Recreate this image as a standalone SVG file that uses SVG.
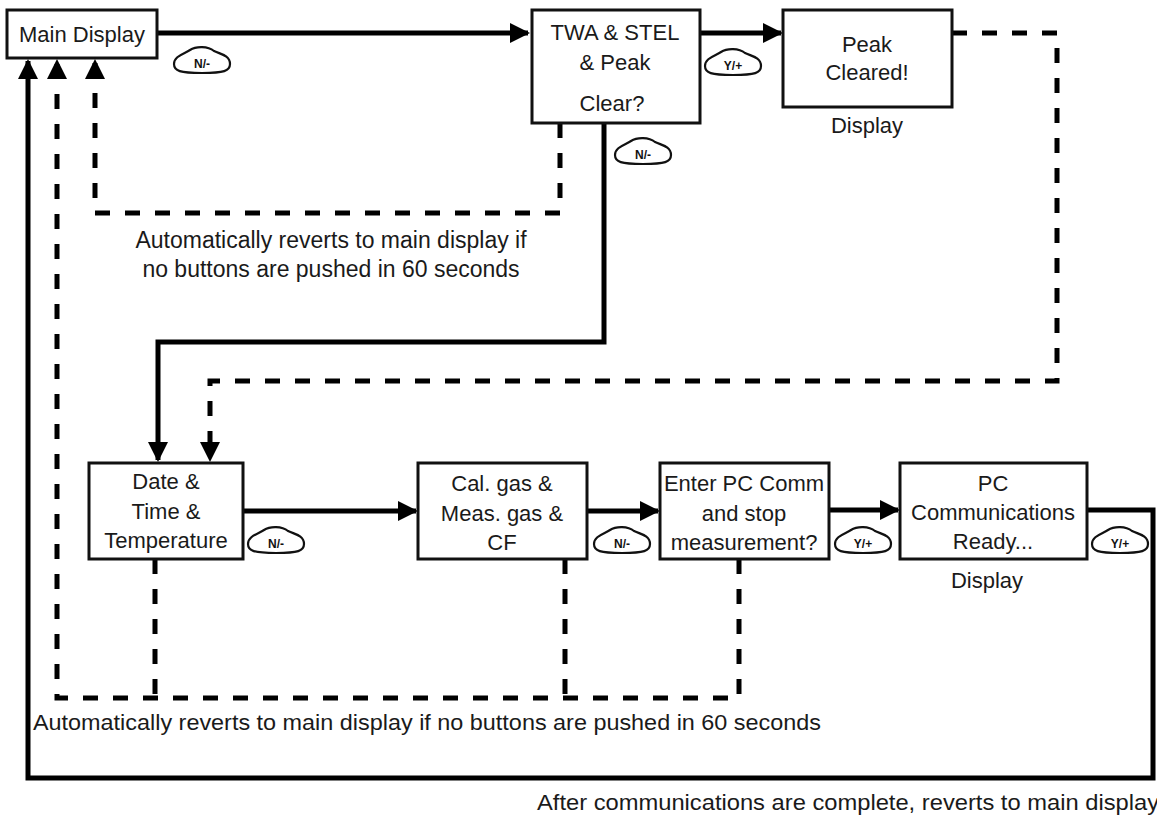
<svg xmlns="http://www.w3.org/2000/svg" width="1157" height="816" viewBox="0 0 1157 816">
<defs>
<style>
.box{fill:#fff;stroke:#111;stroke-width:3}
.t{font-family:"Liberation Sans",Arial,sans-serif;font-size:22px;fill:#1a1a1a;text-anchor:middle}
.n{font-family:"Liberation Sans",Arial,sans-serif;font-size:22px;fill:#1a1a1a}
.s{fill:none;stroke:#000;stroke-width:5}
.d{fill:none;stroke:#000;stroke-width:5;stroke-dasharray:15 15}
.bd{fill:#fff;stroke:#111;stroke-width:2.2}
.bt{font-family:"Liberation Sans",Arial,sans-serif;font-size:12px;font-weight:bold;fill:#111;text-anchor:middle}
</style>
<marker id="ah" viewBox="0 0 10 10" refX="9" refY="5" markerWidth="4" markerHeight="4" markerUnits="strokeWidth" orient="auto">
<path d="M0,0 L10,5 L0,10 Z" fill="#000"/>
</marker>
<path id="badge" d="M-28,6 C-28,-2 -18,-4 -12,-8 C-6,-12 6,-12 12,-7 C18,-4 28,-3 28,6 C28,13 22,15 0,15 C-22,15 -28,13 -28,6 Z"/>
</defs>

<g id="connectors">
<path class="s" d="M157,33 L528,33" marker-end="url(#ah)"/>
<path class="s" d="M700,33 L781,33" marker-end="url(#ah)"/>
<path class="d" d="M952,33 L1057,33 L1057,381 L210,381 L210,460" marker-end="url(#ah)"/>
<path class="s" d="M604,123 L604,342 L158,342 L158,460" marker-end="url(#ah)"/>
<path class="d" d="M560,123 L560,213 L95,213 L95,61" marker-end="url(#ah)"/>
<path class="s" d="M243,511 L416,511" marker-end="url(#ah)"/>
<path class="s" d="M587,511 L658,511" marker-end="url(#ah)"/>
<path class="s" d="M829,510 L898,510" marker-end="url(#ah)"/>
<path class="s" d="M1087,510 L1153,510 L1153,778 L28,778 L28,61" marker-end="url(#ah)"/>
<path class="d" d="M739,559 L739,698 L57,698 L57,61" marker-end="url(#ah)"/>
<path class="d" d="M155,559 L155,698"/>
<path class="d" d="M565,559 L565,698"/>
</g>

<g id="badges">
<g transform="translate(202,58)"><use href="#badge" class="bd"/><text class="bt" x="0" y="10">N/-</text></g>
<g transform="translate(733,60)"><use href="#badge" class="bd"/><text class="bt" x="0" y="10">Y/+</text></g>
<g transform="translate(643,149)"><use href="#badge" class="bd"/><text class="bt" x="0" y="10">N/-</text></g>
<g transform="translate(276,538)"><use href="#badge" class="bd"/><text class="bt" x="0" y="10">N/-</text></g>
<g transform="translate(622,538)"><use href="#badge" class="bd"/><text class="bt" x="0" y="10">N/-</text></g>
<g transform="translate(863,538)"><use href="#badge" class="bd"/><text class="bt" x="0" y="10">Y/+</text></g>
<g transform="translate(1120,538)"><use href="#badge" class="bd"/><text class="bt" x="0" y="10">Y/+</text></g>
</g>

<g id="main-display">
<rect class="box" x="7" y="10" width="150" height="48"/>
<text class="t" x="82" y="42">Main Display</text>
</g>

<g id="twa">
<rect class="box" x="532" y="10" width="168" height="113"/>
<text class="t" x="615" y="40">TWA &amp; STEL</text>
<text class="t" x="615" y="70">&amp; Peak</text>
<text class="t" x="612" y="111">Clear?</text>
</g>

<g id="peak">
<rect class="box" x="783" y="10" width="169" height="97"/>
<text class="t" x="867" y="52">Peak</text>
<text class="t" x="867" y="80">Cleared!</text>
<text class="t" x="867" y="133">Display</text>
</g>

<g id="date">
<rect class="box" x="89" y="463" width="154" height="96"/>
<text class="t" x="166" y="489">Date &amp;</text>
<text class="t" x="166" y="519">Time &amp;</text>
<text class="t" x="166" y="548">Temperature</text>
</g>

<g id="cal">
<rect class="box" x="418" y="463" width="169" height="96"/>
<text class="t" x="502" y="491">Cal. gas &amp;</text>
<text class="t" x="502" y="521">Meas. gas &amp;</text>
<text class="t" x="502" y="550">CF</text>
</g>

<g id="enter">
<rect class="box" x="660" y="463" width="169" height="96"/>
<text class="t" x="744" y="491">Enter PC Comm</text>
<text class="t" x="744" y="521">and stop</text>
<text class="t" x="744" y="550">measurement?</text>
</g>

<g id="pc">
<rect class="box" x="900" y="463" width="187" height="96"/>
<text class="t" x="993" y="491">PC</text>
<text class="t" x="993" y="520">Communications</text>
<text class="t" x="993" y="549">Ready...</text>
<text class="t" x="987" y="588">Display</text>
</g>

<g id="notes">
<text class="t" x="331" y="248" style="font-size:23px">Automatically reverts to main display if</text>
<text class="t" x="331" y="277" style="font-size:23px">no buttons are pushed in 60 seconds</text>
<text class="n" x="33" y="730" textLength="788" lengthAdjust="spacingAndGlyphs">Automatically reverts to main display if no buttons are pushed in 60 seconds</text>
<text class="n" x="537" y="810" textLength="622" lengthAdjust="spacingAndGlyphs">After communications are complete, reverts to main display</text>
</g>
</svg>
